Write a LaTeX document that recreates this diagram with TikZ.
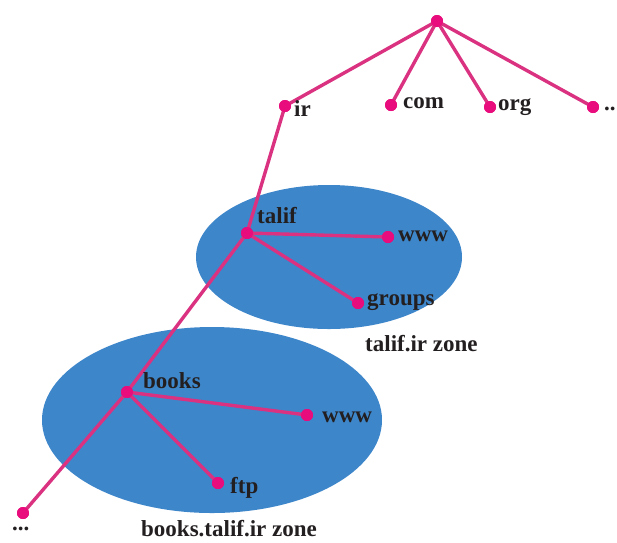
\documentclass[tikz,border=0pt]{standalone}
\usepackage{fontspec}
\setmainfont{Liberation Serif}
\definecolor{zoneblue}{RGB}{62,134,202}
\definecolor{linkpink}{RGB}{218,50,128}
\definecolor{dotpink}{RGB}{232,12,124}
\definecolor{txt}{RGB}{35,31,32}
\tikzset{
  zone/.style={fill=zoneblue, draw=none},
  dot/.style={circle, fill=dotpink, inner sep=0pt, minimum size=12pt},
  link/.style={draw=linkpink, line width=3.4pt, line cap=round, line join=round},
  lbl/.style={anchor=base west, inner sep=0pt, text=txt, font=\fontsize{23}{26}\selectfont\bfseries}
}
\begin{document}
\begin{tikzpicture}[x=1pt,y=-1pt]
\useasboundingbox (0,0) rectangle (617,542);
% zones
\fill[zone] (329,257) ellipse [x radius=133, y radius=72];
\fill[zone] (212,420) ellipse [x radius=170, y radius=93];
% dots
\node[dot] (root) at (437,21) {};
\node[dot] (ir) at (285,106) {};
\node[dot] (com) at (391,105) {};
\node[dot] (org) at (490,107) {};
\node[dot] (dd) at (593,107) {};
\node[dot] (talif) at (247,233) {};
\node[dot] (www1) at (388,237) {};
\node[dot] (groups) at (358,303) {};
\node[dot] (books) at (127,392) {};
\node[dot] (www2) at (307,415) {};
\node[dot] (ftp) at (218,483) {};
\node[dot] (ddd) at (23,513) {};
% links
\draw[link] (root.center) -- (ir.center);
\draw[link] (root.center) -- (com.center);
\draw[link] (root.center) -- (org.center);
\draw[link] (root.center) -- (dd.center);
\draw[link] (ir.center) -- (talif.center) -- (books.center) -- (ddd.center);
\draw[link] (talif.center) -- (www1.center);
\draw[link] (talif.center) -- (groups.center);
\draw[link] (books.center) -- (www2.center);
\draw[link] (books.center) -- (ftp.center);
% redraw dots on top
\foreach \n in {root,ir,com,org,dd,talif,www1,groups,books,www2,ftp,ddd}
  \fill[dotpink] (\n.center) circle (6pt);
% labels
\node[lbl] (lir) at (294,116) {ir};
\node[lbl] (lcom) at (403,108) {com};
\node[lbl] (lorg) at (498,110) {org};
\node[lbl] (ldd) at (604,110) {..};
\node[lbl] (ltalif) at (257,223) {talif};
\node[lbl] (lwww1) at (398,241) {www};
\node[lbl] (lgroups) at (367,305) {groups};
\node[lbl] (lzone1) at (365,351) {talif.ir zone};
\node[lbl] (lbooks) at (143,388) {books};
\node[lbl] (lwww2) at (322,422) {www};
\node[lbl] (lftp) at (230,493) {ftp};
\node[lbl] (lddd) at (12,530) {...};
\node[lbl] (lzone2) at (141,536) {books.talif.ir zone};
\end{tikzpicture}
\end{document}
